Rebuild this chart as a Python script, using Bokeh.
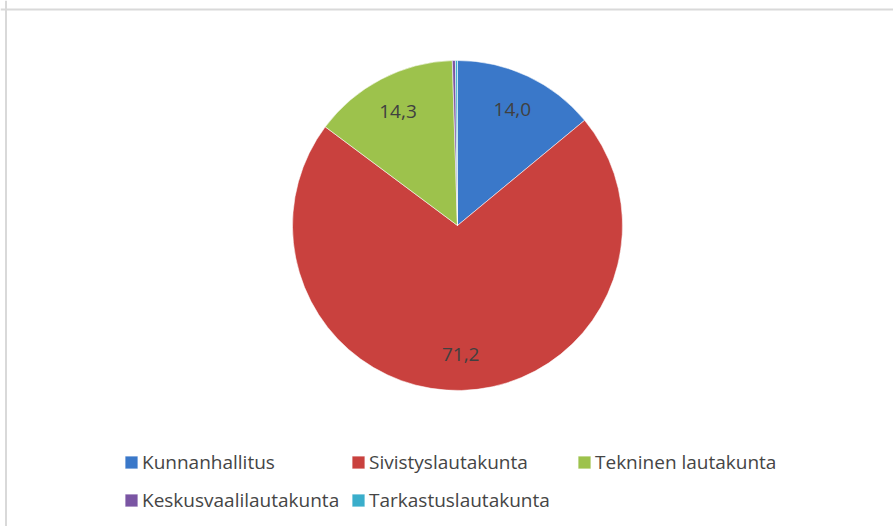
import math
from bokeh.plotting import figure
from bokeh.models import ColumnDataSource, Range1d, Legend, LegendItem, Span
from bokeh.core.properties import value
from bokeh.embed import file_html
from bokeh.resources import INLINE

# ---- data ----
categories = ["Kunnanhallitus", "Sivistyslautakunta", "Tekninen lautakunta",
              "Keskusvaalilautakunta", "Tarkastuslautakunta"]
values = [14.0, 71.2, 14.3, 0.3, 0.2]
colors = ["#3a78c9", "#c9413e", "#9dc24c", "#7a55a3", "#3aaecb"]

# ---- layout ----
W, H = 893, 526
cx, cy = 457, H - 225
R = 165

total = sum(values)
starts, ends, mids = [], [], []
acc = 0.0
for v in values:
    a0 = math.pi / 2 - acc / total * 2 * math.pi
    acc += v
    a1 = math.pi / 2 - acc / total * 2 * math.pi
    starts.append(a0)
    ends.append(a1)
    mids.append((a0 + a1) / 2)

src = ColumnDataSource(dict(cat=categories, val=values, color=colors,
                            start=starts, end=ends,
                            x=[cx] * len(values), y=[cy] * len(values)))

p = figure(width=W, height=H, output_backend="svg", toolbar_location=None,
           x_range=Range1d(0, W), y_range=Range1d(0, H), min_border=0,
           outline_line_color=None, background_fill_color="white",
           border_fill_color="white")
p.axis.visible = False
p.grid.visible = False

r = p.wedge(x="x", y="y", radius=R, radius_units="screen",
            start_angle="start", end_angle="end", direction="clock",
            fill_color="color", line_color="white", line_alpha=0.55,
            line_width=1, source=src)

# data labels (only for visible slices)
lx, ly, lt = [], [], []
for v, m in zip(values, mids):
    if v >= 1:
        lx.append(cx + 0.78 * R * math.cos(m))
        ly.append(cy + 0.78 * R * math.sin(m))
        lt.append(f"{v:.1f}".replace(".", ","))
p.text(x=lx, y=ly, text=lt, text_align="center", text_baseline="middle",
       text_font=value("Open Sans"), text_font_size="19px", text_color="#404040")

# chart-area frame (left & top edges visible)
p.add_layout(Span(location=5.5, dimension="height", line_color="#d9d9d9", line_width=2))
p.add_layout(Span(location=H - 9, dimension="width", line_color="#d9d9d9", line_width=2))

# legend: one Legend per entry, arranged in two rows
legend_pos = [(123, 51), (350, 51), (576, 51), (123, 13), (350, 13)]
for i, (cat, pos) in enumerate(zip(categories, legend_pos)):
    lg = Legend(items=[LegendItem(label=cat, renderers=[r], index=i)],
                location=pos, padding=0, margin=0, spacing=0,
                border_line_color=None, background_fill_alpha=0,
                glyph_width=16, glyph_height=16, label_height=20,
                label_standoff=3, label_text_font="Open Sans",
                label_text_font_size="19px", label_text_color="#454545")
    p.add_layout(lg, "center")

open("out.html", "w").write(file_html(p, INLINE))
